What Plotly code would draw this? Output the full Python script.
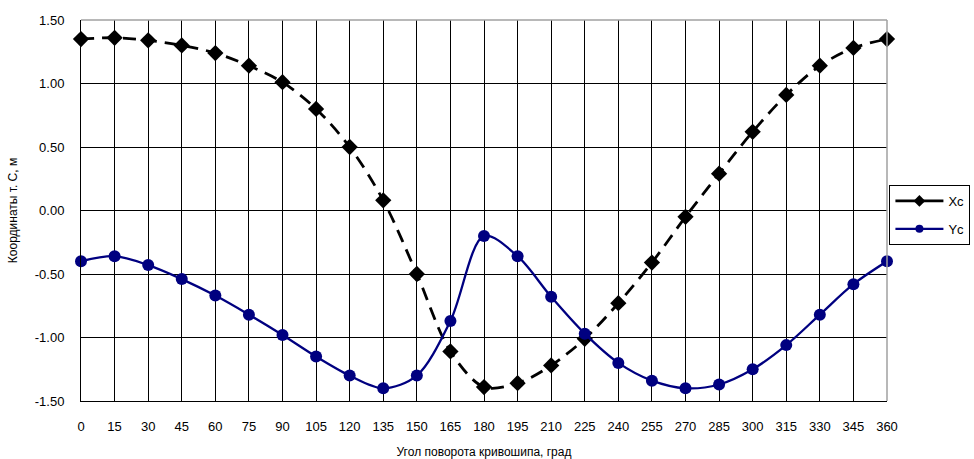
import plotly.graph_objects as go

angles = list(range(0, 361, 15))
xc = [1.35, 1.36, 1.34, 1.30, 1.24, 1.14, 1.01, 0.80, 0.50, 0.08, -0.50, -1.11, -1.39,
      -1.36, -1.22, -1.01, -0.73, -0.41, -0.05, 0.29, 0.62, 0.91, 1.14, 1.28, 1.35]
yc = [-0.40, -0.36, -0.43, -0.54, -0.67, -0.82, -0.98, -1.15, -1.30, -1.40, -1.30, -0.87, -0.20,
      -0.36, -0.68, -0.97, -1.20, -1.34, -1.40, -1.37, -1.25, -1.06, -0.82, -0.58, -0.40]
y_tickvals = [1.5, 1.0, 0.5, 0.0, -0.5, -1.0, -1.5]
y_ticktext = ["1.50", "1.00", "0.50", "0.00", "-0.50", "-1.00", "-1.50"]
x_tickvals = angles
x_ticktext = [str(a) for a in angles]

FONT = "Liberation Sans, Arial, sans-serif"
NAVY = "#000080"

xc_line = dict(color="black", width=2.8, dash="13px,8px", shape="spline", smoothing=0.9)
yc_line = dict(color=NAVY, width=2.3, shape="spline", smoothing=0.9)

fig = go.Figure()
fig.add_trace(go.Scatter(
    x=angles, y=xc, name="Xc", mode="lines+markers", showlegend=False,
    line=xc_line, marker=dict(symbol="diamond", size=12.5, color="black"),
    cliponaxis=False,
))
fig.add_trace(go.Scatter(
    x=angles, y=yc, name="Yc", mode="lines+markers", showlegend=False,
    line=yc_line, marker=dict(symbol="circle", size=12, color=NAVY),
    cliponaxis=False,
))
# legend-only entries with smaller symbols (as in the reference legend)
fig.add_trace(go.Scatter(
    x=[None], y=[None], name="Xc", mode="lines+markers", legendgroup="a",
    line=dict(color="black", width=2.8), marker=dict(symbol="diamond", size=9, color="black"),
))
fig.add_trace(go.Scatter(
    x=[None], y=[None], name="Yc", mode="lines+markers", legendgroup="b",
    line=dict(color=NAVY, width=2.3), marker=dict(symbol="circle", size=8, color=NAVY),
))

fig.update_layout(
    width=974, height=459,
    margin=dict(l=81, r=87, t=20, b=58, autoexpand=False),
    paper_bgcolor="white", plot_bgcolor="white",
    font=dict(family=FONT, size=13, color="black"),
    showlegend=True,
    legend=dict(x=1.003, y=0.567, xanchor="left", yanchor="top",
                bordercolor="black", borderwidth=1, bgcolor="white",
                font=dict(size=13), tracegroupgap=8, itemwidth=48,
                itemclick=False),
    xaxis=dict(range=[0, 360], tickvals=x_tickvals, ticktext=x_ticktext,
               showgrid=True, gridcolor="black", gridwidth=1,
               showline=True, linecolor="black", linewidth=1,
               zeroline=False, ticks="", ticklabelstandoff=13, automargin=False,
               tickfont=dict(size=13),
               title=dict(text="Угол поворота кривошипа, град", font=dict(size=12), standoff=16)),
    yaxis=dict(range=[-1.5, 1.5], tickvals=y_tickvals, ticktext=y_ticktext,
               showgrid=True, gridcolor="black", gridwidth=1,
               showline=True, linecolor="black", linewidth=1,
               zeroline=False, ticks="", ticklabelstandoff=13, automargin=False,
               tickfont=dict(size=13),
               title=dict(text="Координаты т. С, м", font=dict(size=12), standoff=14)),
    shapes=[
        dict(type="line", xref="paper", yref="paper", x0=0, x1=1, y0=1, y1=1,
             line=dict(color="#a0a0a0", width=1.5)),
        dict(type="line", xref="paper", yref="paper", x0=1, x1=1, y0=0, y1=1,
             line=dict(color="#a0a0a0", width=1.5)),
    ],
)

fig.write_html("out.html")
